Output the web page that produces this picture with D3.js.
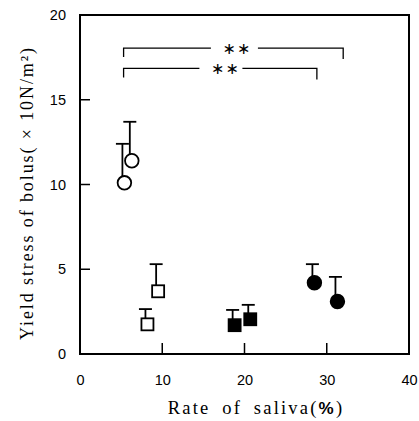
<!DOCTYPE html>
<html>
<head>
<meta charset="utf-8">
<script src="https://cdn.jsdelivr.net/npm/d3@7"></script>
<style>
  body { margin: 0; background: #fff; }
  svg { display: block; }
</style>
</head>
<body>
<div id="viz"></div>
<script>
// axis ticks
let x_ticks = [0, 10, 20, 30, 40];
let y_ticks = [0, 5, 10, 15, 20];

// groups: open circle, open square, filled square, filled circle
let open_circle_x = [5.4, 6.3];
let open_circle_y = [10.1, 11.4];
let open_circle_err = [12.4, 13.7];

let open_square_x = [8.2, 9.5];
let open_square_y = [1.75, 3.7];
let open_square_err = [2.65, 5.3];

let filled_square_x = [18.8, 20.7];
let filled_square_y = [1.7, 2.05];
let filled_square_err = [2.6, 2.9];

let filled_circle_x = [28.5, 31.3];
let filled_circle_y = [4.2, 3.1];
let filled_circle_err = [5.3, 4.55];

// significance brackets
let bracket_x1 = [5.3, 5.3];
let bracket_x2 = [32, 28.8];
let bracket_y = [18.05, 16.85];
let bracket_star_x = [19.2, 17.8];
let bracket_label = ['\u2217\u2217', '\u2217\u2217'];

window.onload = function () {
    draw()
}

function draw() {
    const width = 419, height = 421;
    const margin = {top: 15, right: 10, bottom: 67, left: 80};

    const svg = d3.select('#viz').append('svg')
        .attr('width', width)
        .attr('height', height);

    const x = d3.scaleLinear().domain([0, 40]).range([margin.left, width - margin.right]);
    const y = d3.scaleLinear().domain([0, 20]).range([height - margin.bottom, margin.top]);

    // frame
    svg.append('rect')
        .attr('x', x(0)).attr('y', y(20))
        .attr('width', x(40) - x(0)).attr('height', y(0) - y(20))
        .attr('fill', 'none').attr('stroke', '#000').attr('stroke-width', 2);

    // y ticks (inward), labels
    const yAxis = d3.axisLeft(y).tickValues(y_ticks).tickSize(0).tickPadding(14);
    const gy = svg.append('g').attr('transform', `translate(${x(0)},0)`).call(yAxis);
    gy.select('.domain').remove();
    gy.selectAll('text').attr('font-family', 'Liberation Sans, Arial, sans-serif')
        .attr('font-size', 14.5).attr('fill', '#000');
    svg.append('g').selectAll('line')
        .data(y_ticks.filter(d => d > 0 && d < 20))
        .join('line')
        .attr('x1', x(0)).attr('x2', x(0) + 10)
        .attr('y1', d => y(d)).attr('y2', d => y(d))
        .attr('stroke', '#000').attr('stroke-width', 1.5);

    // x ticks (inward), labels
    const xAxis = d3.axisBottom(x).tickValues(x_ticks).tickSize(0).tickPadding(21);
    const gx = svg.append('g').attr('transform', `translate(0,${y(0)})`).call(xAxis);
    gx.select('.domain').remove();
    gx.selectAll('text').attr('font-family', 'Liberation Sans, Arial, sans-serif')
        .attr('font-size', 14.5).attr('fill', '#000');
    svg.append('g').selectAll('line')
        .data(x_ticks.filter(d => d > 0 && d < 40))
        .join('line')
        .attr('x1', d => x(d)).attr('x2', d => x(d))
        .attr('y1', y(0)).attr('y2', y(0) - 11)
        .attr('stroke', '#000').attr('stroke-width', 1.5);

    // axis titles
    svg.append('text')
        .attr('transform', `translate(33,193) rotate(-90)`)
        .attr('text-anchor', 'middle')
        .attr('font-family', 'Liberation Serif, Times New Roman, serif')
        .attr('font-size', 18)
        .attr('letter-spacing', 1.9)
        .text('Yield stress of bolus( \u00d7 10N/m\u00b2)');

    const xt = svg.append('text')
        .attr('x', 256).attr('y', 414)
        .attr('text-anchor', 'middle')
        .attr('font-family', 'Liberation Serif, Times New Roman, serif')
        .attr('font-size', 18.5)
        .attr('letter-spacing', 2.2)
        .attr('word-spacing', 5);
    xt.append('tspan').text('Rate of saliva(');
    xt.append('tspan').attr('font-family', 'Liberation Sans, Arial, sans-serif')
        .attr('font-weight', 'bold').attr('font-size', 17).text('%');
    xt.append('tspan').text(')');

    // brackets
    const brackets = bracket_y.map((v, i) => ({
        x1: bracket_x1[i], x2: bracket_x2[i], y: v, sx: bracket_star_x[i], label: bracket_label[i]
    }));
    const bg = svg.append('g').attr('stroke', '#000').attr('stroke-width', 1.3).attr('fill', 'none');
    brackets.forEach(function (b, i) {
        const yy = y(b.y);
        const gap = i === 0 ? [x(b.sx) - 27, x(b.sx) + 20] : [x(b.sx) - 27, x(b.sx) + 16];
        bg.append('path')
            .attr('d', `M${x(b.x1)},${yy + 9}V${yy}H${gap[0]}M${gap[1]},${yy}H${x(b.x2)}V${yy + 11}`);
        svg.append('text')
            .attr('x', x(b.sx) - 1).attr('y', yy + 6)
            .attr('text-anchor', 'middle')
            .attr('font-family', 'DejaVu Sans, sans-serif')
            .attr('font-size', 16)
            .attr('letter-spacing', 1)
            .text(b.label);
    });

    // points with error bars
    const groups = [
        {xs: open_circle_x, ys: open_circle_y, err: open_circle_err, shape: 'circle', fill: '#fff'},
        {xs: open_square_x, ys: open_square_y, err: open_square_err, shape: 'square', fill: '#fff'},
        {xs: filled_square_x, ys: filled_square_y, err: filled_square_err, shape: 'square', fill: '#000'},
        {xs: filled_circle_x, ys: filled_circle_y, err: filled_circle_err, shape: 'circle', fill: '#000'}
    ];

    groups.forEach(function (g) {
        const pts = g.xs.map((v, i) => ({x: v, y: g.ys[i], e: g.err[i]}));
        const eg = svg.append('g').attr('stroke', '#000').attr('stroke-width', 1.8);
        eg.selectAll('line.v').data(pts).join('line')
            .attr('x1', d => x(d.x) - 2).attr('x2', d => x(d.x) - 2)
            .attr('y1', d => y(d.y)).attr('y2', d => y(d.e));
        eg.selectAll('line.c').data(pts).join('line')
            .attr('x1', d => x(d.x) - 8.5).attr('x2', d => x(d.x) + 4.5)
            .attr('y1', d => y(d.e)).attr('y2', d => y(d.e));

        if (g.shape === 'circle') {
            svg.append('g').selectAll('circle').data(pts).join('circle')
                .attr('cx', d => x(d.x)).attr('cy', d => y(d.y))
                .attr('r', 6.8)
                .attr('fill', g.fill).attr('stroke', '#000').attr('stroke-width', 1.8);
        } else {
            svg.append('g').selectAll('rect').data(pts).join('rect')
                .attr('x', d => x(d.x) - 6).attr('y', d => y(d.y) - 6)
                .attr('width', 12).attr('height', 12)
                .attr('fill', g.fill).attr('stroke', '#000').attr('stroke-width', 1.8);
        }
    });
}
</script>
</body>
</html>
